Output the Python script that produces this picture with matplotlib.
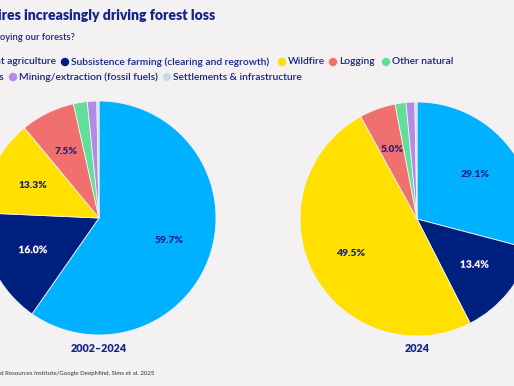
import matplotlib
matplotlib.use('Agg')
import matplotlib.pyplot as plt
import matplotlib.patheffects as pe
from matplotlib.patches import Ellipse

plt.rcParams['font.family'] = ['Lato', 'DejaVu Sans']

W, H = 514, 386
BG = '#f3f1f2'
NAVY = '#16238a'

drivers = ['Permanent agriculture', 'Subsistence farming (clearing and regrowth)',
           'Wildfire', 'Logging', 'Other natural disturbances',
           'Mining/extraction (fossil fuels)', 'Settlements & infrastructure']
colors = ['#00b1ff', '#00207f', '#ffe000', '#f07070', '#62de9c', '#b38be6', '#c8dbe6']
share_2002_2024 = [59.7, 16.0, 13.3, 7.5, 1.9, 1.3, 0.3]
share_2024 = [29.1, 13.4, 49.5, 5.0, 1.5, 1.2, 0.3]
periods = ['2002\u20132024', '2024']


def fx(px):
    return px / W


def fy(py):
    return 1 - py / H


fig = plt.figure(figsize=(W / 100, H / 100), dpi=100, facecolor=BG)
renderer = fig.canvas.get_renderer()


def size_for(visible, width, **kw):
    # font size at which the text is `width` pixels wide
    t = fig.text(0, 0, visible, fontsize=10, **kw)
    w = t.get_window_extent(renderer).width
    t.remove()
    return 10 * width / w


# title / subtitle, cut off at the left like the source crop
fs = size_for('res increasingly driving forest loss', 215, fontweight='heavy')
fig.text(fx(215), fy(15), 'Fires increasingly driving forest loss', ha='right', va='center',
         fontsize=fs, fontweight='heavy', color=NAVY)
fs = size_for('oying our forests?', 75, fontweight='semibold')
fig.text(fx(75), fy(38), "What's destroying our forests?", ha='right', va='center',
         fontsize=fs, fontweight='semibold', color=NAVY)


def dot(x, y, c):
    fig.add_artist(Ellipse((fx(x), fy(y)), 7 / W, 7 / H, transform=fig.transFigure,
                           color=c))


# legend drawn by hand (two wrapped rows)
lkw = dict(fontsize=size_for(drivers[1], 200, fontweight='semibold'),
           fontweight='semibold', color=NAVY, va='center')
fig.text(fx(56), fy(62), drivers[0], ha='right', **lkw)
for x, i in [(65, 1), (282, 2), (333, 3), (386, 4)]:
    dot(x, 62, colors[i])
    fig.text(fx(x + 6), fy(62), 'Other natural' if i == 4 else drivers[i], ha='left', **lkw)
fig.text(fx(4), fy(77), 'disturbances', ha='right', **lkw)
for x, i in [(13, 5), (167, 6)]:
    dot(x, 77, colors[i])
    fig.text(fx(x + 6), fy(77), drivers[i], ha='left', **lkw)


def pie(cx, cy, r, vals, label):
    ax = fig.add_axes([fx(cx - r), fy(cy + r), 2 * r / W, 2 * r / H])
    ax.set_facecolor(BG)
    wedges, _, autotexts = ax.pie(vals, colors=colors, startangle=90, counterclock=False,
                                  autopct=lambda p: '%.1f%%' % p if p > 3 else '',
                                  pctdistance=0.63,
                                  wedgeprops=dict(edgecolor=BG, linewidth=0.6))
    for i, t in enumerate(autotexts):
        t.set_fontsize(7.4)
        t.set_fontweight('heavy')
        if i == 1:
            t.set_color('white')
            t.set_path_effects([pe.withStroke(linewidth=1.2, foreground=NAVY)])
        else:
            t.set_color(NAVY)
    ax.set_xlim(-1, 1)
    ax.set_ylim(-1, 1)
    ax.set_aspect('equal')
    ax.axis('off')
    fs = size_for('2002\u20132024', 56, fontweight='heavy')
    fig.text(fx(cx), fy(348), label, ha='center', va='center', fontsize=fs,
             fontweight='heavy', color=NAVY)


pie(99, 218, 117, share_2002_2024, periods[0])
pie(417, 219, 117, share_2024, periods[1])

fs = size_for('d Resources Institute/Google DeepMind, Sims et al. 2025', 154)
fig.text(fx(154), fy(373), 'Source: World Resources Institute/Google DeepMind, Sims et al. 2025',
         ha='right', va='center', fontsize=fs, color='#333333')

fig.savefig('out.png', dpi=100, facecolor=BG)
